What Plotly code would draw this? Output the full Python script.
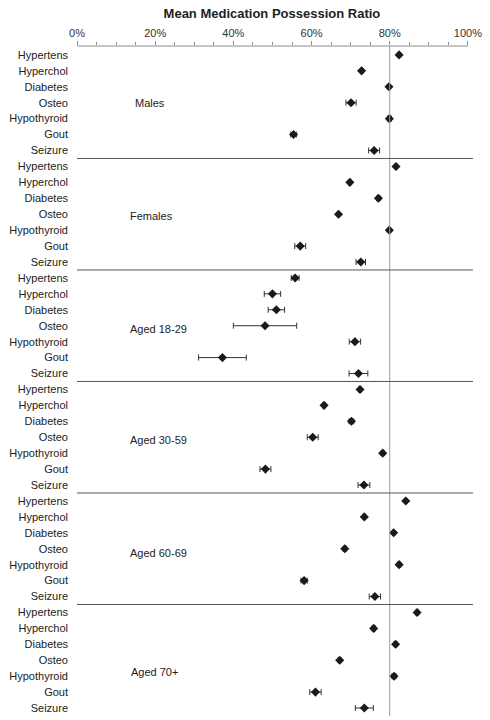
import plotly.graph_objects as go

conditions = ["Hypertens", "Hyperchol", "Diabetes", "Osteo", "Hypothyroid", "Gout", "Seizure"]
groups = ["Males", "Females", "Aged 18-29", "Aged 30-59", "Aged 60-69", "Aged 70+"]

# mean MPR (%) per group, in condition order
males = [82.4, 72.8, 79.8, 70.1, 79.9, 55.4, 76.0]
females = [81.6, 69.8, 77.1, 66.9, 79.9, 57.1, 72.6]
aged_18_29 = [55.8, 50.0, 51.0, 48.1, 71.1, 37.2, 72.0]
aged_30_59 = [72.4, 63.2, 70.2, 60.3, 78.2, 48.2, 73.4]
aged_60_69 = [84.1, 73.5, 81.0, 68.5, 82.4, 58.1, 76.2]
aged_70_plus = [87.0, 75.9, 81.5, 67.2, 81.1, 61.0, 73.5]

# half-width of the error bars (%)
males_err = [0.3, 0.3, 0.4, 1.3, 0.5, 0.7, 1.4]
females_err = [0.3, 0.3, 0.4, 0.3, 0.3, 1.4, 1.2]
aged_18_29_err = [1.0, 2.1, 2.1, 8.1, 1.45, 6.1, 2.4]
aged_30_59_err = [0.3, 0.4, 0.6, 1.4, 0.4, 1.4, 1.5]
aged_60_69_err = [0.3, 0.3, 0.3, 0.4, 0.4, 0.8, 1.45]
aged_70_plus_err = [0.3, 0.4, 0.4, 0.4, 0.5, 1.45, 2.3]

x_ticks = [0, 20, 40, 60, 80, 100]
x_tick_labels = ["0%", "20%", "40%", "60%", "80%", "100%"]
reference_line = 80

all_vals = [males, females, aged_18_29, aged_30_59, aged_60_69, aged_70_plus]
all_errs = [males_err, females_err, aged_18_29_err, aged_30_59_err, aged_60_69_err, aged_70_plus_err]

n = len(conditions)
xs, ys, es, labels = [], [], [], []
for g, (vals, errs) in enumerate(zip(all_vals, all_errs)):
    for i in range(n):
        xs.append(vals[i])
        es.append(errs[i])
        ys.append(g * n + i)
        labels.append(conditions[i])

fig = go.Figure()
fig.add_trace(go.Scatter(
    x=xs, y=ys, mode="markers",
    marker=dict(symbol="diamond", size=7, color="#1a1a1a"),
    error_x=dict(type="data", array=es, visible=True, color="#333333", thickness=1, width=3),
    showlegend=False, cliponaxis=False,
))

shapes = []
# top axis line
shapes.append(dict(type="line", xref="x", yref="paper", x0=0, x1=100, y0=1, y1=1,
                   line=dict(color="#8c8c8c", width=1)))
# reference vertical line
shapes.append(dict(type="line", xref="x", yref="paper", x0=reference_line, x1=reference_line, y0=0, y1=1,
                   line=dict(color="#9a9a9a", width=1)))
# group separators
for g in range(1, len(groups)):
    yy = g * n - 0.5
    shapes.append(dict(type="line", xref="paper", yref="y", x0=0, x1=1, y0=yy, y1=yy,
                       line=dict(color="#555555", width=1)))

label_x = [14.4, 13.0, 13.0, 13.0, 13.0, 13.2]
label_row = [3.0, 3.1, 3.2, 3.2, 3.25, 3.75]
annotations = []
for g, name in enumerate(groups):
    annotations.append(dict(x=label_x[g], y=g * n + label_row[g], xref="x", yref="y", text=name,
                            showarrow=False, xanchor="left", yanchor="middle",
                            font=dict(size=11, color="#222222", family="Liberation Sans, Arial")))

fig.update_layout(
    width=490, height=720,
    margin=dict(l=77, r=17, t=46, b=4, autoexpand=False),
    paper_bgcolor="white", plot_bgcolor="white",
    title=dict(text="<b>Mean Medication Possession Ratio</b>", x=0.555, xanchor="center",
               y=0.982, yanchor="middle",
               font=dict(size=13, color="#222222", family="Liberation Sans, Arial")),
    font=dict(family="Liberation Sans, Arial", size=11, color="#333333"),
    shapes=shapes, annotations=annotations,
    xaxis=dict(side="top", range=[0, 101.3], tickvals=x_ticks, ticktext=x_tick_labels,
               showgrid=False, zeroline=False, showline=False, automargin=False,
               ticks="outside", ticklen=4, tickcolor="#8c8c8c",
               minor=dict(tickvals=[v for v in range(0, 101, 5)], ticklen=3, tickcolor="#8c8c8c", ticks="outside"),
               tickfont=dict(size=11, color="#333333")),
    yaxis=dict(range=[len(ys) - 0.5, -0.56], tickvals=ys, ticktext=labels,
               showgrid=False, zeroline=False, showline=False, ticks="", automargin=False,
               ticklabelstandoff=8, tickfont=dict(size=11, color="#222222")),
)

fig.write_html("out.html", config={"displayModeBar": False},
               post_script="document.body.style.margin='0';document.body.style.overflow='hidden';")
